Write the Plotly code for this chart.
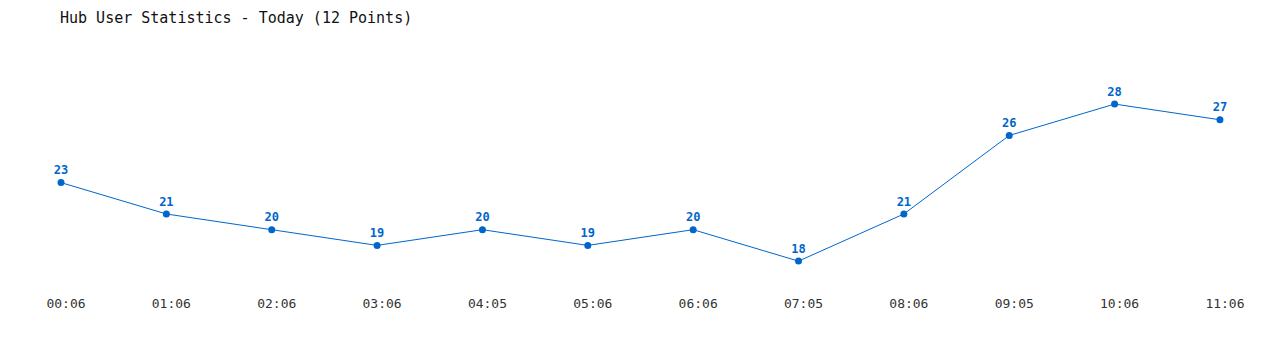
import plotly.graph_objects as go

times = ["00:06", "01:06", "02:06", "03:06", "04:05", "05:06", "06:06", "07:05", "08:06", "09:05", "10:06", "11:06"]
users = [23, 21, 20, 19, 20, 19, 20, 18, 21, 26, 28, 27]
idx = list(range(len(times)))

color = "#0066cc"
fig = go.Figure(go.Scatter(
    x=idx, y=users, mode="lines+markers+text",
    line=dict(color=color, width=1),
    marker=dict(color=color, size=7),
    text=[str(v) for v in users], textposition="top center",
    textfont=dict(family="DejaVu Sans Mono", size=12, color=color, weight="bold"),
    hoverinfo="skip",
))
fig.update_layout(
    width=1280, height=350,
    margin=dict(l=0, r=0, t=40, b=60),
    paper_bgcolor="white", plot_bgcolor="white",
    showlegend=False,
    title=dict(text="Hub User Statistics - Today (12 Points)", x=60/1280, xanchor="left",
               y=1-18/350, yanchor="middle",
               font=dict(family="DejaVu Sans Mono", size=15, color="#111")),
    xaxis=dict(range=[-0.579, 11.57], tickvals=idx, ticktext=times, showgrid=False,
               zeroline=False, showline=False, ticks="", ticklabelstandoff=4,
               ticklabelshift=5,
               tickfont=dict(family="DejaVu Sans Mono", size=13, color="#333")),
    yaxis=dict(range=[16.16, 32.08], showgrid=False, zeroline=False, showline=False,
               showticklabels=False, ticks=""),
)
fig.write_html("out.html")
